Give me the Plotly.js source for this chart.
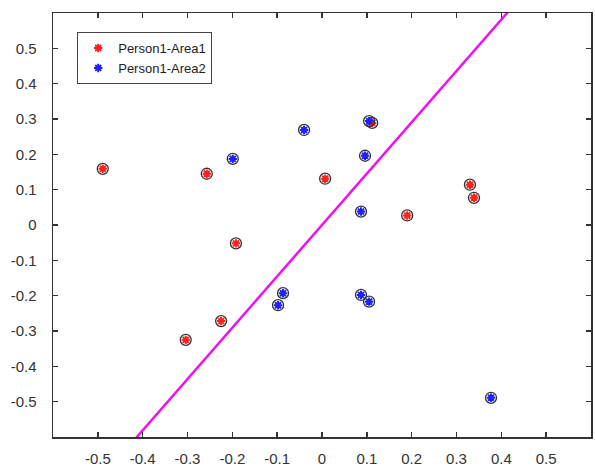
<!DOCTYPE html>
<html>
<head>
<meta charset="utf-8">
<script src="https://cdn.plot.ly/plotly-3.0.1.min.js"></script>
<style>html,body{margin:0;padding:0;background:#fff;}#chart{width:595px;height:467px;}</style>
</head>
<body>
<div id="chart"></div>
<script>
// Series names
const seriesNames = ["Person1-Area1", "Person1-Area2"];
// Person1-Area1 (red)
const area1X = [-0.489, -0.257, -0.192, 0.007, -0.225, -0.304, 0.190, 0.330, 0.339, 0.112];
const area1Y = [0.159, 0.145, -0.052, 0.131, -0.272, -0.325, 0.027, 0.114, 0.077, 0.289];
// Person1-Area2 (blue)
const area2X = [-0.199, -0.040, 0.096, 0.105, 0.087, -0.087, -0.098, 0.087, 0.105, 0.377];
const area2Y = [0.187, 0.269, 0.196, 0.294, 0.038, -0.193, -0.227, -0.198, -0.217, -0.489];
// Separating line (magenta)
const lineX = [-0.6, 0.6];
const lineY = [-0.872, 0.872];
// Ticks
const tickVals = [-0.5, -0.4, -0.3, -0.2, -0.1, 0, 0.1, 0.2, 0.3, 0.4, 0.5];
const tickText = ["-0.5", "-0.4", "-0.3", "-0.2", "-0.1", "0", "0.1", "0.2", "0.3", "0.4", "0.5"];

const font = "Arial, 'Liberation Sans', sans-serif";

const traces = [
  {x: lineX, y: lineY, mode: "lines", line: {color: "#ee11ee", width: 2.5}, showlegend: false, hoverinfo: "skip"},
  {x: area1X, y: area1Y, mode: "markers", showlegend: false,
   marker: {symbol: "circle-open", size: 11, color: "#333", line: {width: 1.3, color: "#333"}}},
  {x: area1X, y: area1Y, mode: "markers", name: seriesNames[0],
   marker: {symbol: "asterisk-open", size: 7, color: "#ff2020", line: {width: 2, color: "#ff2020"}}},
  {x: area2X, y: area2Y, mode: "markers", showlegend: false,
   marker: {symbol: "circle-open", size: 11, color: "#333", line: {width: 1.3, color: "#333"}}},
  {x: area2X, y: area2Y, mode: "markers", name: seriesNames[1],
   marker: {symbol: "asterisk-open", size: 7, color: "#2020ff", line: {width: 2, color: "#2020ff"}}}
];

const axisCommon = {
  range: [-0.6, 0.6],
  tickvals: tickVals,
  ticktext: tickText,
  ticks: "inside",
  ticklen: 5,
  tickwidth: 1.5,
  tickcolor: "#333",
  showline: true,
  linecolor: "#333",
  linewidth: 1.5,
  mirror: "ticks",
  showgrid: false,
  zeroline: false,
  tickfont: {family: font, size: 15, color: "#333"}
};

const layout = {
  width: 595, height: 467,
  margin: {l: 53, r: 4, t: 13, b: 30},
  paper_bgcolor: "#fff",
  plot_bgcolor: "#fff",
  showlegend: true,
  xaxis: Object.assign({}, axisCommon, {ticklabelstandoff: 7}),
  yaxis: Object.assign({}, axisCommon, {ticklabelstandoff: 12}),
  legend: {
    x: 0.045, y: 0.955, xanchor: "left", yanchor: "top",
    bgcolor: "#fff", bordercolor: "#444", borderwidth: 1,
    font: {family: font, size: 13, color: "#222"},
    itemwidth: 30, tracegroupgap: 0
  }
};

Plotly.newPlot("chart", traces, layout, {displayModeBar: false, staticPlot: true});
</script>
</body>
</html>
